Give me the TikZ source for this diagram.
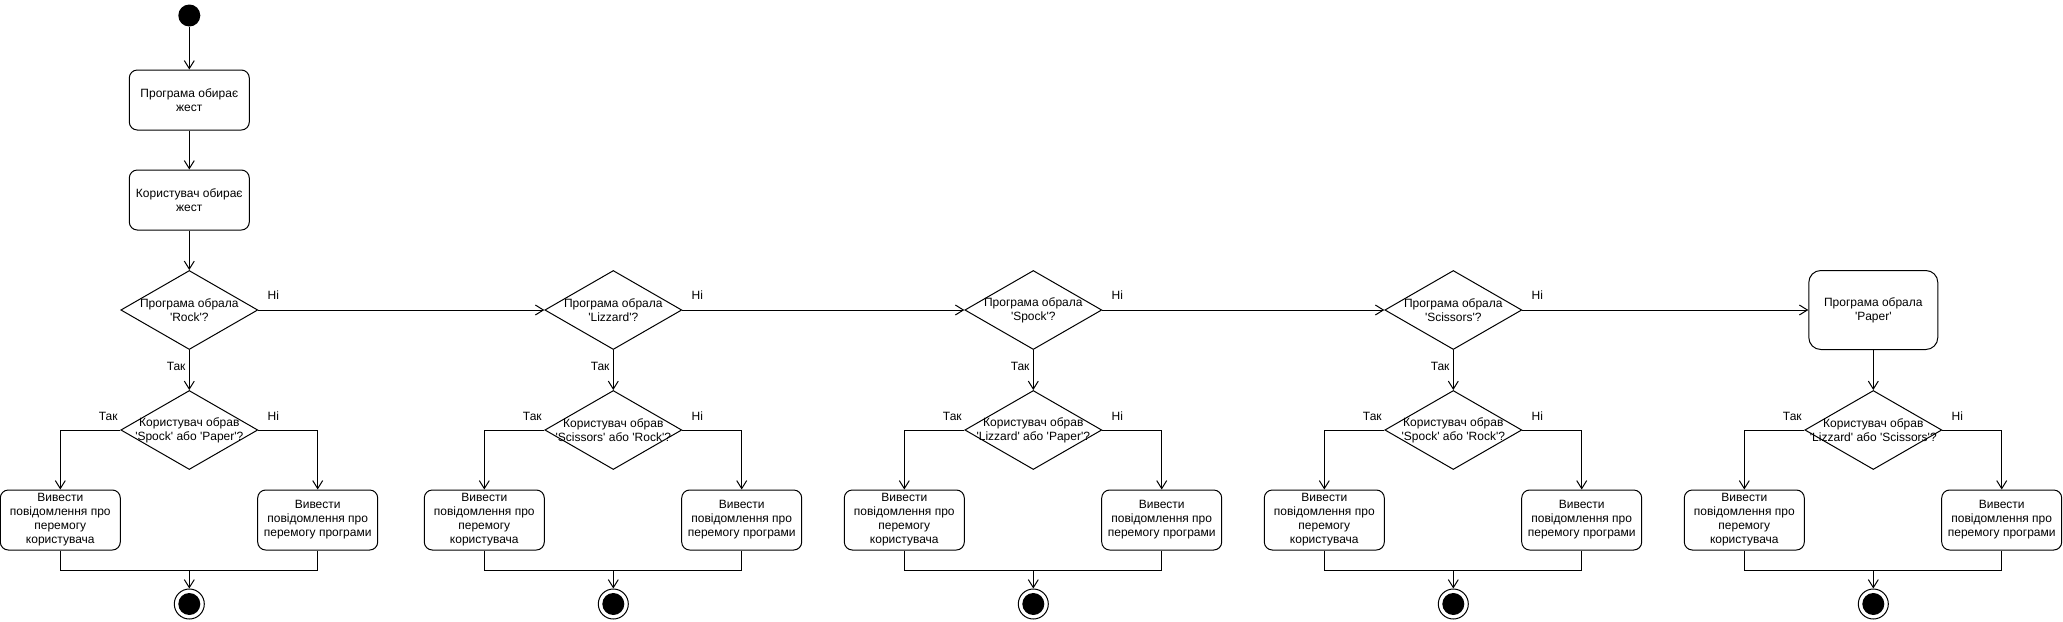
\documentclass[tikz,border=0pt]{standalone}
\usepackage{fontspec}
\setmainfont{Liberation Sans}[Ligatures=TeXOff]
\usetikzlibrary{shapes.geometric,arrows.meta}

\begin{document}
\begin{tikzpicture}[x=1pt,y=-1pt,line width=1pt,
	every node/.style={font=\fontsize{12}{14}\selectfont,align=center},
	act/.style={draw,rounded corners=8pt,minimum width=120pt,minimum height=60pt,inner sep=0},
	dec/.style={draw,diamond,minimum width=137pt,minimum height=79pt,inner sep=0},
	initnode/.style={circle,fill=black,inner sep=0,minimum size=22pt},
	finalnode/.style={draw,circle,inner sep=0,minimum size=30pt,path picture={\fill[black] (path picture bounding box.center) circle (11pt);}},
	flow/.style={-{Straight Barb[length=8pt,width=10pt]}}]
	\useasboundingbox (0,0) rectangle (2063,621);
	\node[initnode] (start) at (189.3,15.5) {};
	\node[act] (prog) at (189.3,100) {Програма обирає\\жест};
	\node[act] (user) at (189.3,200) {Користувач обирає\\жест};
	\node[dec,label=center:{Програма обрала\\'Rock'?}] (d1) at (189.3,310) {};
	\node[dec,label=center:{Програма обрала\\'Lizzard'?}] (d2) at (613.3,310) {};
	\node[dec,label=center:{Програма обрала\\'Spock'?}] (d3) at (1033.3,310) {};
	\node[dec,label=center:{Програма обрала\\'Scissors'?}] (d4) at (1453.3,310) {};
	\node[act,rounded corners=12pt,minimum width=129pt,minimum height=79pt] (paper) at (1873.3,310) {Програма обрала\\'Paper'};
	\node[dec,label=center:{Користувач обрав\\'Spock' або 'Paper'?}] (u1) at (189.3,430) {};
	\node[dec,label=center:{Користувач обрав\\'Scissors' або 'Rock'?}] (u2) at (613.3,430) {};
	\node[dec,label=center:{Користувач обрав\\'Lizzard' або 'Paper'?}] (u3) at (1033.3,430) {};
	\node[dec,label=center:{Користувач обрав\\'Spock' або 'Rock'?}] (u4) at (1453.3,430) {};
	\node[dec,label=center:{Користувач обрав\\'Lizzard' або 'Scissors'?}] (u5) at (1873.3,430) {};
	\node[act] (w1) at (60.3,520) {Вивести\\повідомлення про\\перемогу\\користувача};
	\node[act] (l1) at (317.7,520) {Вивести\\повідомлення про\\перемогу програми};
	\node[act] (w2) at (484.3,520) {Вивести\\повідомлення про\\перемогу\\користувача};
	\node[act] (l2) at (741.7,520) {Вивести\\повідомлення про\\перемогу програми};
	\node[act] (w3) at (904.3,520) {Вивести\\повідомлення про\\перемогу\\користувача};
	\node[act] (l3) at (1161.7,520) {Вивести\\повідомлення про\\перемогу програми};
	\node[act] (w4) at (1324.3,520) {Вивести\\повідомлення про\\перемогу\\користувача};
	\node[act] (l4) at (1581.7,520) {Вивести\\повідомлення про\\перемогу програми};
	\node[act] (w5) at (1744.3,520) {Вивести\\повідомлення про\\перемогу\\користувача};
	\node[act] (l5) at (2001.7,520) {Вивести\\повідомлення про\\перемогу програми};
	\coordinate (m1) at (189.3,570.7);
	\coordinate (m2) at (613.3,570.7);
	\coordinate (m3) at (1033.3,570.7);
	\coordinate (m4) at (1453.3,570.7);
	\coordinate (m5) at (1873.3,570.7);
	\node[finalnode] (e1) at (189.3,604) {};
	\node[finalnode] (e2) at (613.3,604) {};
	\node[finalnode] (e3) at (1033.3,604) {};
	\node[finalnode] (e4) at (1453.3,604) {};
	\node[finalnode] (e5) at (1873.3,604) {};
	\draw[flow] (start) -- (prog);
	\draw[flow] (prog) -- (user);
	\draw[flow] (user) -- (d1);
	\draw[flow] (d1.east) -- node[pos=0,xshift=15pt,yshift=15pt] {Ні} (d2.west);
	\draw[flow] (d2.east) -- node[pos=0,xshift=15pt,yshift=15pt] {Ні} (d3.west);
	\draw[flow] (d3.east) -- node[pos=0,xshift=15pt,yshift=15pt] {Ні} (d4.west);
	\draw[flow] (d4.east) -- node[pos=0,xshift=15pt,yshift=15pt] {Ні} (paper.west);
	\draw[flow] (d1.south) -- node[pos=0.4,left] {Так} (u1.north);
	\draw[flow] (d2.south) -- node[pos=0.4,left] {Так} (u2.north);
	\draw[flow] (d3.south) -- node[pos=0.4,left] {Так} (u3.north);
	\draw[flow] (d4.south) -- node[pos=0.4,left] {Так} (u4.north);
	\draw[flow] (paper.south) -- (u5.north);
	\draw[flow] (u1.west) -| node[pos=0,xshift=-12pt,yshift=14pt] {Так} (w1.north);
	\draw[flow] (u1.east) -| node[pos=0,xshift=15pt,yshift=14pt] {Ні} (l1.north);
	\draw[flow] (u2.west) -| node[pos=0,xshift=-12pt,yshift=14pt] {Так} (w2.north);
	\draw[flow] (u2.east) -| node[pos=0,xshift=15pt,yshift=14pt] {Ні} (l2.north);
	\draw[flow] (u3.west) -| node[pos=0,xshift=-12pt,yshift=14pt] {Так} (w3.north);
	\draw[flow] (u3.east) -| node[pos=0,xshift=15pt,yshift=14pt] {Ні} (l3.north);
	\draw[flow] (u4.west) -| node[pos=0,xshift=-12pt,yshift=14pt] {Так} (w4.north);
	\draw[flow] (u4.east) -| node[pos=0,xshift=15pt,yshift=14pt] {Ні} (l4.north);
	\draw[flow] (u5.west) -| node[pos=0,xshift=-12pt,yshift=14pt] {Так} (w5.north);
	\draw[flow] (u5.east) -| node[pos=0,xshift=15pt,yshift=14pt] {Ні} (l5.north);
	\draw (w1.south) |- (m1) -| (l1.south);
	\draw (w2.south) |- (m2) -| (l2.south);
	\draw (w3.south) |- (m3) -| (l3.south);
	\draw (w4.south) |- (m4) -| (l4.south);
	\draw (w5.south) |- (m5) -| (l5.south);
	\draw[flow] (m1) -- (e1);
	\draw[flow] (m2) -- (e2);
	\draw[flow] (m3) -- (e3);
	\draw[flow] (m4) -- (e4);
	\draw[flow] (m5) -- (e5);
\end{tikzpicture}
\end{document}
